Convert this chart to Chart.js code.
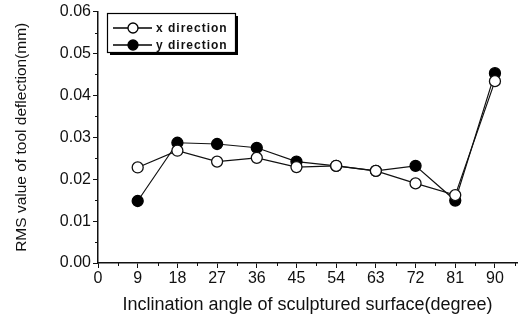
<!DOCTYPE html>
<html>
<head>
<meta charset="utf-8">
<script src="https://cdn.jsdelivr.net/npm/chart.js@4.4.0/dist/chart.umd.min.js"></script>
<style>
  body { margin: 0; background: #fff; }
  #wrap { width: 526px; height: 322px; }
</style>
</head>
<body>
<div id="wrap"><canvas id="myChart" width="526" height="322"></canvas></div>
<script>
// chart values
const angles = [9, 18, 27, 36, 45, 54, 63, 72, 81, 90]
const xDirection = [0.0228, 0.0268, 0.0242, 0.0251, 0.0229, 0.0232, 0.0220, 0.0190, 0.0162, 0.0434]
const yDirection = [0.0148, 0.0287, 0.0284, 0.0275, 0.0242, 0.0232, 0.0220, 0.0232, 0.0149, 0.0453]
const xTicks = [0, 9, 18, 27, 36, 45, 54, 63, 72, 81, 90]
const yTicks = [0, 0.01, 0.02, 0.03, 0.04, 0.05, 0.06]

const toPoints = function (vals) {
    return angles.map((a, i) => ({ x: a, y: vals[i] }))
}

// minor ticks between the major ones
const minorTicks = {
    id: 'minorTicks',
    afterDraw(chart) {
        const ctx = chart.ctx
        const xs = chart.scales.x
        const ys = chart.scales.y
        ctx.save()
        ctx.strokeStyle = '#111'
        ctx.lineWidth = 1
        ctx.beginPath()
        for (let i = 0; i < xTicks.length; i++) {
            const px = Math.round(xs.getPixelForValue(xTicks[i] + 4.5)) + 0.5
            if (px > xs.right) break
            ctx.moveTo(px, ys.bottom)
            ctx.lineTo(px, ys.bottom + 3)
        }
        for (let i = 0; i < yTicks.length - 1; i++) {
            const py = Math.round(ys.getPixelForValue(yTicks[i] + 0.005)) + 0.5
            ctx.moveTo(xs.left, py)
            ctx.lineTo(xs.left - 3, py)
        }
        ctx.stroke()
        ctx.restore()
    }
}

// legend box with a drop shadow, inside the plot
const boxLegend = {
    id: 'boxLegend',
    afterDraw(chart) {
        const ctx = chart.ctx
        const bx = 107, by = 13, bw = 128, bh = 39
        ctx.save()
        ctx.fillStyle = '#000'
        ctx.fillRect(bx + 3, by + 3, bw, bh)
        ctx.fillStyle = '#fff'
        ctx.fillRect(bx, by, bw, bh)
        ctx.strokeStyle = '#000'
        ctx.lineWidth = 1.2
        ctx.strokeRect(bx + 0.5, by + 0.5, bw, bh)
        chart.data.datasets.forEach((ds, i) => {
            const ly = by + 15 + i * 17
            ctx.beginPath()
            ctx.moveTo(113, ly)
            ctx.lineTo(152, ly)
            ctx.lineWidth = 1.3
            ctx.stroke()
            ctx.beginPath()
            ctx.arc(133, ly, 5, 0, Math.PI * 2)
            ctx.fillStyle = ds.pointBackgroundColor
            ctx.fill()
            ctx.lineWidth = 1.3
            ctx.stroke()
            ctx.fillStyle = '#111'
            ctx.font = 'bold 12px "Liberation Sans", Arial, sans-serif'
            ctx.letterSpacing = '1px'
            ctx.textBaseline = 'middle'
            ctx.fillText(ds.label, 156, ly + 1)
        })
        ctx.restore()
    }
}

const chartManagement = function () {
    const ctx = document.getElementById('myChart')
    new Chart(ctx, {
        type: 'line',
        data: {
            datasets: [{
                label: 'x direction',
                data: toPoints(xDirection),
                borderColor: '#111',
                borderWidth: 1.2,
                pointRadius: 5.5,
                pointBorderWidth: 1.3,
                pointBackgroundColor: '#fff',
                pointBorderColor: '#111',
                order: 1
            }, {
                label: 'y direction',
                data: toPoints(yDirection),
                borderColor: '#111',
                borderWidth: 1.2,
                pointRadius: 5.5,
                pointBorderWidth: 1.3,
                pointBackgroundColor: '#000',
                pointBorderColor: '#000',
                order: 2
            }]
        },
        options: {
            responsive: false,
            animation: false,
            layout: { padding: { top: 10, right: 9, left: 0, bottom: 0 } },
            plugins: {
                legend: { display: false },
                tooltip: { enabled: false }
            },
            scales: {
                x: {
                    type: 'linear',
                    min: 0,
                    max: 95,
                    afterBuildTicks: (s) => { s.ticks = xTicks.map(v => ({ value: v })) },
                    afterFit: (s) => { s.height = 59 },
                    border: { display: true, color: '#111', width: 1.5 },
                    grid: { drawOnChartArea: false, drawTicks: true, tickLength: 5, color: '#111', lineWidth: 1 },
                    ticks: {
                        color: '#111',
                        padding: 1,
                        maxRotation: 0,
                        font: { family: '"Liberation Sans", Arial, sans-serif', size: 16 }
                    },
                    title: {
                        display: true,
                        text: 'Inclination angle of sculptured surface(degree)',
                        color: '#111',
                        padding: { top: 0, bottom: 6 },
                        font: { family: '"Liberation Sans", Arial, sans-serif', size: 18 }
                    }
                },
                y: {
                    min: 0,
                    max: 0.06,
                    afterBuildTicks: (s) => { s.ticks = yTicks.map(v => ({ value: v })) },
                    afterFit: (s) => { s.width = 98 },
                    border: { display: true, color: '#111', width: 1.5 },
                    grid: { drawOnChartArea: false, drawTicks: true, tickLength: 5, color: '#111', lineWidth: 1 },
                    ticks: {
                        color: '#111',
                        padding: 2,
                        callback: (v) => v.toFixed(2),
                        font: { family: '"Liberation Sans", Arial, sans-serif', size: 16 }
                    },
                    title: {
                        display: true,
                        text: 'RMS value of tool deflection(mm)',
                        color: '#111',
                        padding: { top: 12, bottom: 0 },
                        font: { family: '"Liberation Sans", Arial, sans-serif', size: 15.5 }
                    }
                }
            }
        },
        plugins: [minorTicks, boxLegend]
    })
}
chartManagement()
</script>
</body>
</html>
